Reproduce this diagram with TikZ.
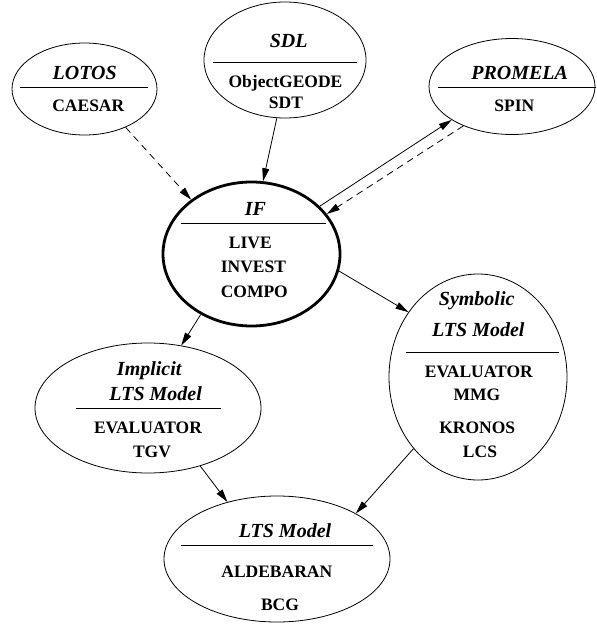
\documentclass[tikz,border=0pt]{standalone}
\usepackage{fontspec}
\setmainfont{Liberation Serif}
\usetikzlibrary{shapes.geometric,arrows.meta}
\tikzset{
  ell/.style={ellipse,draw,line width=0.8pt,inner sep=0pt},
  thickell/.style={ellipse,draw,line width=2.8pt,inner sep=0pt},
  ttl/.style={anchor=base,inner sep=0pt,font=\fontsize{20}{22}\selectfont\bfseries\itshape},
  itm/.style={anchor=base,inner sep=0pt,font=\fontsize{17.5}{20}\selectfont\bfseries},
  sep/.style={line width=0.8pt},
  conn/.style={line width=0.8pt,-{Triangle[length=13pt,width=7pt]}},
  dconn/.style={conn,dash pattern=on 7pt off 5pt}
}
\begin{document}
\begin{tikzpicture}[x=1pt,y=-1pt]
\useasboundingbox (0,0) rectangle (597,624);
% ellipses
\node[ell,minimum width=145pt,minimum height=92pt] (lotos) at (84.5,89) {};
\node[ell,minimum width=162pt,minimum height=116pt] (sdl) at (285,60) {};
\node[ell,minimum width=166pt,minimum height=96pt] (promela) at (512,86.5) {};
\node[thickell,minimum width=177pt,minimum height=144pt] (if) at (251.5,254) {};
\node[ell,minimum width=226pt,minimum height=130pt] (impl) at (148,408) {};
\node[ell,minimum width=178pt,minimum height=206pt] (sym) at (478,377) {};
\node[ell,minimum width=226pt,minimum height=126pt] (lts) at (277,559) {};
% separators
\draw[sep] (20,87) -- (148,87);
\draw[sep] (213,62) -- (357,62);
\draw[sep] (438,87) -- (596,87);
\draw[sep] (181,223) -- (326,223);
\draw[sep] (76,408) -- (221,408);
\draw[sep] (406,352) -- (559,352);
\draw[sep] (181,545) -- (373,545);
% texts
\node[ttl] (tlotos) at (84.7,79) {LOTOS};
\node[itm] (caesar) at (88.3,111) {CAESAR};
\node[ttl] (tsdl) at (288.7,47) {SDL};
\node[itm] (ogeode) at (285.5,87) {ObjectGEODE};
\node[itm] (sdt) at (286,108) {SDT};
\node[ttl] (tprom) at (519.7,79) {PROMELA};
\node[itm] (spin) at (514.3,111) {SPIN};
\node[ttl] (tif) at (255.5,215) {IF};
\node[itm] (live) at (250.3,248) {LIVE};
\node[itm] (invest) at (253.5,272) {INVEST};
\node[itm] (compo) at (254.3,297) {COMPO};
\node[ttl] (timpl) at (149.2,375.7) {Implicit};
\node[ttl] (timpl2) at (155.7,400) {LTS Model};
\node[itm] (eval1) at (148,433) {EVALUATOR};
\node[itm] (tgv) at (152,457) {TGV};
\node[ttl] (tsym) at (476.7,305) {Symbolic};
\node[ttl] (tsym2) at (478.3,336.7) {LTS Model};
\node[itm] (eval2) at (478.8,377) {EVALUATOR};
\node[itm] (mmg) at (477,400.7) {MMG};
\node[itm] (kronos) at (477.2,433) {KRONOS};
\node[itm] (lcs) at (480,457) {LCS};
\node[ttl] (tlts) at (285,537) {LTS Model};
\node[itm] (alde) at (276.8,577) {ALDEBARAN};
\node[itm] (bcg) at (280,610.7) {BCG};
% connectors
\draw[dconn] (lotos.-43.2) -- (if.138.5);
\draw[conn] (sdl.262.3) -- (if.81.7);
\draw[conn] (if.35.6) -- (promela.209.5);
\draw[dconn] (promela.219.2) -- (if.28.5);
\draw[conn] (if.230.4) -- (impl.62.1);
\draw[conn] (if.-11.2) -- (sym.137.5);
\draw[conn] (impl.-48.7) -- (lts.131.2);
\draw[conn] (sym.228) -- (lts.30.3);
\end{tikzpicture}
\end{document}
